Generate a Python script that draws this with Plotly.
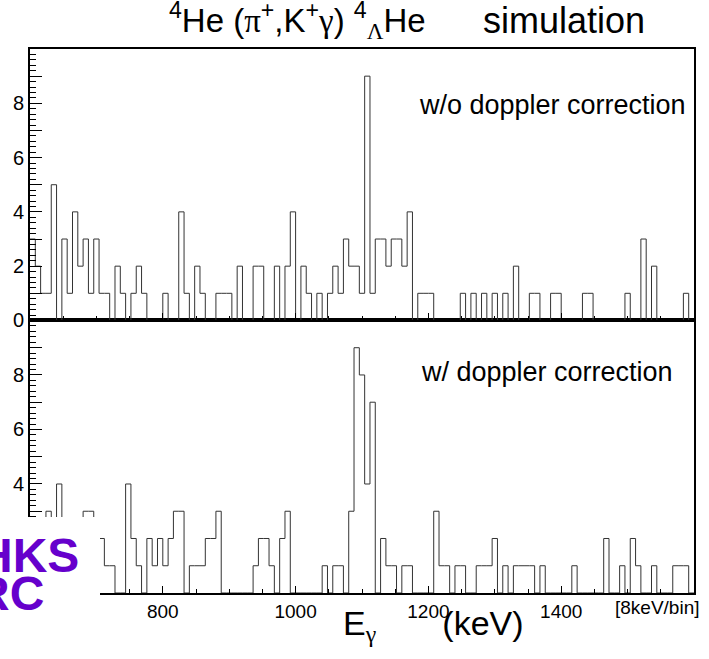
import plotly.graph_objects as go

# ---- data -------------------------------------------------------------
bin_start_kev = 600
bin_width_kev = 8

counts_no_doppler = [
    3, 2, 1, 1, 5, 0, 3, 1, 4, 2, 3, 1, 3, 1, 1, 0, 2, 1, 0, 1,
    2, 1, 0, 0, 0, 1, 0, 0, 4, 1, 0, 2, 1, 0, 0, 1, 1, 1, 0, 2,
    0, 0, 2, 2, 0, 0, 2, 0, 2, 4, 0, 2, 1, 0, 1, 0, 1, 2, 1, 3,
    2, 2, 1, 9, 1, 3, 3, 2, 3, 3, 2, 4, 0, 1, 1, 1, 0, 0, 0, 0,
    0, 1, 0, 1, 0, 1, 0, 1, 0, 1, 0, 2, 0, 0, 1, 1, 0, 0, 1, 1,
    0, 0, 0, 0, 1, 1, 0, 0, 0, 0, 0, 0, 1, 0, 0, 3, 0, 2, 0, 0,
    0, 0, 0, 1, 0,
]

counts_doppler = [
    2, 2, 1, 3, 1, 4, 1, 2, 2, 1, 3, 3, 1, 2, 1, 1, 0, 0, 4, 2,
    1, 0, 2, 1, 2, 1, 2, 3, 3, 0, 1, 1, 1, 2, 2, 3, 0, 0, 0, 0,
    0, 0, 1, 2, 2, 1, 0, 2, 3, 0, 0, 0, 0, 0, 0, 1, 0, 1, 1, 0,
    3, 9, 8, 4, 7, 0, 2, 1, 1, 0, 1, 1, 0, 0, 0, 0, 3, 1, 1, 0,
    1, 1, 0, 0, 1, 1, 1, 2, 0, 1, 0, 1, 1, 1, 1, 0, 1, 0, 0, 0,
    0, 0, 1, 0, 0, 0, 0, 0, 2, 0, 0, 1, 0, 2, 1, 0, 0, 1, 0, 0,
    0, 1, 1, 1, 0,
]

x_tick_vals = [600, 800, 1000, 1200, 1400, 1600]
x_tick_text = ["", "800", "1000", "1200", "1400", ""]
y_tick_vals = list(range(0, 10))
y_tick_text = [str(v) if v % 2 == 0 else "" for v in y_tick_vals]

# ---- figure -----------------------------------------------------------
n_bins = len(counts_no_doppler)
edges = [bin_start_kev + i * bin_width_kev for i in range(n_bins + 1)]
x_lo, x_hi = edges[0], edges[-1]

FONT = "Liberation Sans, Arial, sans-serif"
SERIF = "Liberation Serif, DejaVu Serif, serif"
LINE = "#333333"

fig = go.Figure()
fig.add_trace(go.Scatter(x=edges, y=counts_no_doppler + [counts_no_doppler[-1]],
                         mode="lines", line=dict(shape="hv", color=LINE, width=1),
                         xaxis="x2", yaxis="y2", showlegend=False, hoverinfo="skip"))
fig.add_trace(go.Scatter(x=edges, y=counts_doppler + [counts_doppler[-1]],
                         mode="lines", line=dict(shape="hv", color=LINE, width=1),
                         xaxis="x", yaxis="y", showlegend=False, hoverinfo="skip"))

W, H = 709, 659
ml, mr, mt, mb = 30, 15, 49, 66
split = 0.501

xaxis_common = dict(range=[x_lo, x_hi], tickvals=x_tick_vals, ticktext=x_tick_text,
                    ticks="inside", ticklen=7, tickwidth=1, tickcolor="black",
                    minor=dict(dtick=50, tick0=600, ticks="inside", ticklen=4, tickcolor="black"),
                    showline=True, linecolor="black", linewidth=2, mirror=True,
                    showgrid=False, zeroline=False, automargin=False,
                    tickfont=dict(family=FONT, size=19, color="black"))
yaxis_common = dict(range=[0, 10], tickvals=y_tick_vals, ticktext=y_tick_text,
                    ticks="inside", ticklen=12, tickwidth=1, tickcolor="black",
                    minor=dict(dtick=0.2, ticks="inside", ticklen=6, tickcolor="black"),
                    showline=True, linecolor="black", linewidth=2, mirror=True,
                    showgrid=False, zeroline=False, automargin=False,
                    tickfont=dict(family=FONT, size=20, color="black"))

fig.update_layout(
    width=W, height=H,
    margin=dict(l=ml, r=mr, t=mt, b=mb, autoexpand=False),
    paper_bgcolor="white", plot_bgcolor="white",
    xaxis=dict(anchor="y", **xaxis_common),
    yaxis=dict(anchor="x", domain=[0, split], **yaxis_common),
    xaxis2=dict(anchor="y2", matches="x", showticklabels=False,
                **{k: v for k, v in xaxis_common.items() if k != "tickfont"}),
    yaxis2=dict(anchor="x2", domain=[split, 1], **yaxis_common),
)

pw = W - ml - mr
ph = H - mt - mb
def px(x):
    return (x - ml) / pw
def py(y):
    return (H - mb - y) / ph

def serif(s):
    return "<span style='font-family:" + SERIF + "'>" + s + "</span>"

annotations = [
    dict(text=("<sup>4</sup>He (" + serif("π") + "<sup>+</sup>,K<sup>+</sup>" + serif("γ")
               + ") <sup>4</sup><sub>" + serif("Λ") + "</sub>He"),
         x=px(167), y=py(21), xanchor="left", yanchor="middle",
         font=dict(family=FONT, size=33, color="black")),
    dict(text="simulation", x=px(481), y=py(21), xanchor="left", yanchor="middle",
         font=dict(family=FONT, size=36, color="black")),
    dict(text="w/o doppler correction", x=px(688), y=py(105), xanchor="right", yanchor="middle",
         font=dict(family=FONT, size=27, color="black")),
    dict(text="w/ doppler correction", x=px(675), y=py(372), xanchor="right", yanchor="middle",
         font=dict(family=FONT, size=27, color="black")),
    dict(text="E<sub>" + serif("γ") + "</sub>       (keV)",
         x=px(433), y=py(625), xanchor="center", yanchor="middle",
         font=dict(family=FONT, size=34, color="black")),
    dict(text="[8keV/bin]", x=px(702), y=py(607), xanchor="right", yanchor="middle",
         font=dict(family=FONT, size=19, color="black")),
    dict(text="<b>HKS</b>", x=px(81), y=py(555), xanchor="right", yanchor="middle",
         font=dict(family=FONT, size=48, color="#6600cc")),
    dict(text="<b>RC</b>", x=px(46), y=py(593), xanchor="right", yanchor="middle",
         font=dict(family=FONT, size=48, color="#6600cc")),
]
for a in annotations:
    a.update(xref="paper", yref="paper", showarrow=False)
fig.update_layout(annotations=annotations)

fig.add_shape(type="rect", xref="paper", yref="paper",
              x0=px(-20), x1=px(100), y0=py(680), y1=py(517),
              fillcolor="white", line=dict(width=0), layer="above")

fig.write_html("out.html", config={"displayModeBar": False},
               post_script="document.body.style.margin='0';document.body.style.overflow='hidden';")
